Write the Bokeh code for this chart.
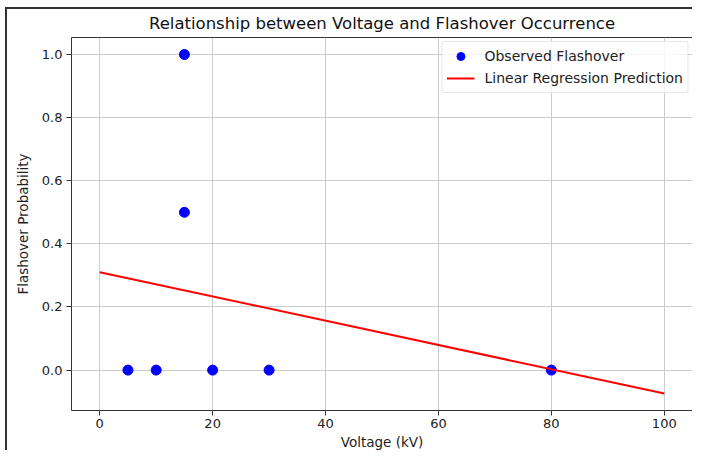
from bokeh.plotting import figure
from bokeh.embed import file_html
from bokeh.resources import INLINE
from bokeh.models import Range1d, FixedTicker, Legend, LegendItem, PrintfTickFormatter

voltage = [5, 10, 15, 15, 20, 30, 80]
flashover = [0, 0, 1.0, 0.5, 0, 0, 0]
line_x = [0, 100]
line_y = [0.3104, -0.0742]
x_ticks = [0, 20, 40, 60, 80, 100]
y_ticks = [0.0, 0.2, 0.4, 0.6, 0.8, 1.0]

FONT = "DejaVu Sans"

p = figure(width=687, height=443, output_backend="svg", toolbar_location=None,
           x_range=Range1d(-5, 105), y_range=Range1d(-0.128, 1.054),
           title="Relationship between Voltage and Flashover Occurrence",
           min_border_left=64, min_border_right=2, min_border_top=28, min_border_bottom=0)
p.styles = {"border-left": "2px solid #333", "border-top": "2px solid #333",
            "margin-left": "5px", "margin-top": "7px"}

p.title.align = "center"
p.title.vertical_align = "top"
p.title.text_font = FONT
p.title.text_font_size = "16.5px"
p.title.text_font_style = "normal"
p.title.text_color = "#111111"
p.title.standoff = 6

p.outline_line_color = "#333333"
p.outline_line_width = 1

for ax in (p.xaxis[0], p.yaxis[0]):
    ax.major_label_text_font = FONT
    ax.major_label_text_font_size = "13px"
    ax.major_label_text_color = "#222222"
    ax.axis_label_text_font = FONT
    ax.axis_label_text_font_size = "13.5px"
    ax.axis_label_text_font_style = "normal"
    ax.axis_label_text_color = "#222222"
    ax.axis_line_color = None
    ax.major_tick_line_color = "#333333"
    ax.major_tick_out = 5
    ax.major_tick_in = 0
    ax.minor_tick_line_color = None
    ax.major_label_standoff = 3
    ax.axis_label_standoff = 3

p.yaxis.major_label_standoff = 4
p.yaxis.axis_label_standoff = 8

p.xaxis.ticker = FixedTicker(ticks=x_ticks)
p.yaxis.ticker = FixedTicker(ticks=y_ticks)
p.yaxis.formatter = PrintfTickFormatter(format="%.1f")
p.xaxis.axis_label = "Voltage (kV)"
p.yaxis.axis_label = "Flashover Probability"

p.xgrid.ticker = FixedTicker(ticks=x_ticks)
p.ygrid.ticker = FixedTicker(ticks=y_ticks)
p.grid.grid_line_color = "#cccccc"
p.grid.grid_line_width = 1

sc = p.scatter(voltage, flashover, size=10, color="#0000ff", line_color="#0000ff")
ln = p.line(line_x, line_y, line_color="#ff0000", line_width=2)

legend = Legend(items=[LegendItem(label="Observed Flashover", renderers=[sc]),
                       LegendItem(label="Linear Regression Prediction", renderers=[ln])],
                location="top_right")
legend.label_text_font = FONT
legend.label_text_font_size = "14px"
legend.label_text_color = "#222222"
legend.border_line_color = "#d0d0d0"
legend.border_line_width = 1
legend.border_radius = 3
legend.background_fill_alpha = 0.8
legend.spacing = 2
legend.padding = 4
legend.margin = 4
legend.glyph_width = 28
legend.label_standoff = 10
legend.label_height = 20
legend.glyph_height = 20
p.add_layout(legend)

open("out.html", "w").write(file_html(p, INLINE))
